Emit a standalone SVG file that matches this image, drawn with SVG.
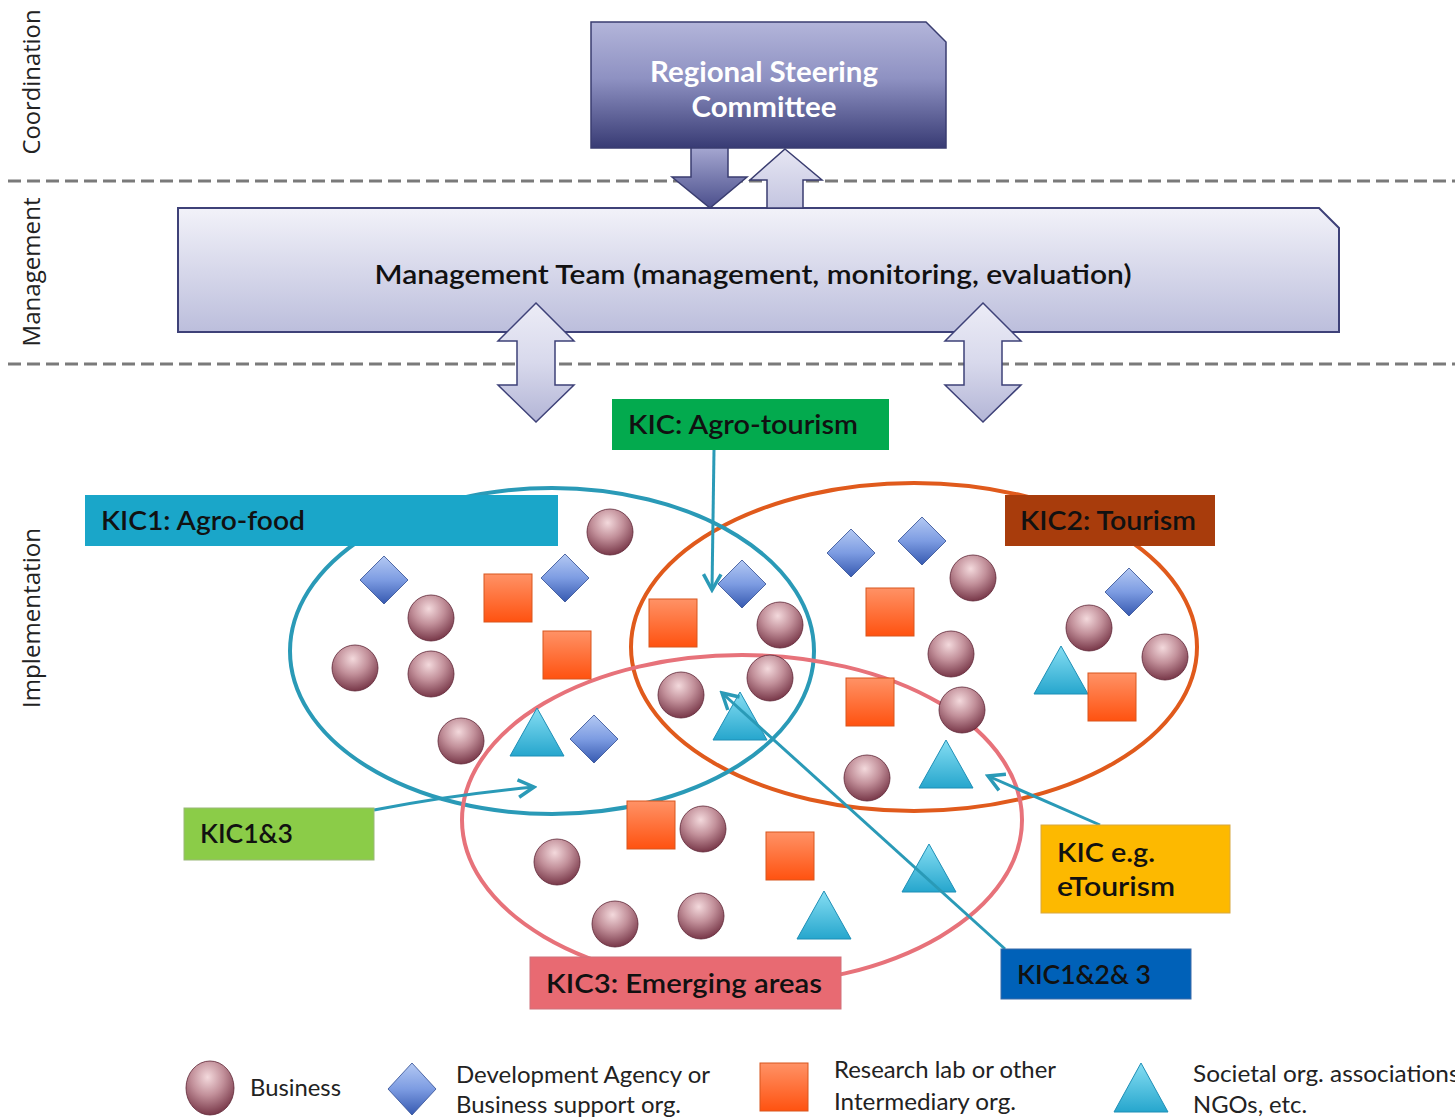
<svg xmlns="http://www.w3.org/2000/svg" width="1455" height="1119" viewBox="0 0 1455 1119">
<style>
.side{font-family:"Open Sans","Liberation Sans",sans-serif;font-size:23px;fill:#222}
.lbl{font-family:Lato,"Open Sans","Liberation Sans",sans-serif;font-size:27px;fill:#111;font-weight:600}
.leg{font-family:Lato,"Liberation Sans",sans-serif;font-size:23px;fill:#222}
.dash{stroke:#7a7a7a;stroke-width:3;stroke-dasharray:13,6;fill:none}
.biz{fill:url(#gBiz);stroke:#5e2535;stroke-width:0.8}
.dev{fill:url(#gDev);stroke:#2f4b92;stroke-width:0.8}
.lab{fill:url(#gLab);stroke:#d8561f;stroke-width:1}
.soc{fill:url(#gSoc);stroke:#1f8fb6;stroke-width:1}
.conn{stroke:#2a9ab7;stroke-width:3;fill:none}
.ell{fill:none;stroke-width:4}
</style>
<defs>
<linearGradient id="gRsc" x1="0" y1="0" x2="0" y2="1">
<stop offset="0" stop-color="#b3b5da"/><stop offset="0.45" stop-color="#8e91c2"/><stop offset="1" stop-color="#383b74"/>
</linearGradient>
<linearGradient id="gMgt" x1="0" y1="0" x2="0" y2="1">
<stop offset="0" stop-color="#f2f2f9"/><stop offset="1" stop-color="#bcbedc"/>
</linearGradient>
<linearGradient id="gDown" x1="0" y1="0" x2="0" y2="1">
<stop offset="0" stop-color="#a4a6d0"/><stop offset="1" stop-color="#4b4f8c"/>
</linearGradient>
<linearGradient id="gUp" x1="0" y1="0" x2="0" y2="1">
<stop offset="0" stop-color="#e6e6f3"/><stop offset="1" stop-color="#c4c5e0"/>
</linearGradient>
<linearGradient id="gDbl" x1="0" y1="0" x2="0" y2="1">
<stop offset="0" stop-color="#ececf6"/><stop offset="0.5" stop-color="#d8d9ec"/><stop offset="1" stop-color="#b3b5d6"/>
</linearGradient>
<radialGradient id="gBiz" cx="0.45" cy="0.3" r="0.75">
<stop offset="0" stop-color="#f3d9dc"/><stop offset="0.45" stop-color="#c2909a"/><stop offset="1" stop-color="#6e2c3e"/>
</radialGradient>
<linearGradient id="gDev" x1="0" y1="0" x2="0" y2="1">
<stop offset="0" stop-color="#b4c9f3"/><stop offset="0.5" stop-color="#7d9ce2"/><stop offset="1" stop-color="#3659b0"/>
</linearGradient>
<linearGradient id="gLab" x1="0" y1="0" x2="0" y2="1">
<stop offset="0" stop-color="#ff9266"/><stop offset="1" stop-color="#ff5210"/>
</linearGradient>
<linearGradient id="gSoc" x1="0" y1="0" x2="0" y2="1">
<stop offset="0" stop-color="#86def3"/><stop offset="1" stop-color="#26a6cd"/>
</linearGradient>
<marker id="ah" viewBox="0 0 12 12" refX="10" refY="6" markerWidth="7" markerHeight="7" orient="auto" markerUnits="strokeWidth">
<path d="M1,1 L10,6 L1,11" fill="none" stroke="#2a9ab7" stroke-width="2"/>
</marker>
<circle id="b" r="23" class="biz"/>
<path id="d" d="M0,-24 L24,0 L0,24 L-24,0 Z" class="dev"/>
<rect id="s" x="-24" y="-24" width="48" height="48" class="lab"/>
<path id="t" d="M0,-26 L27,22 L-27,22 Z" class="soc"/>
</defs>

<rect width="1455" height="1119" fill="#fff"/>

<g id="layers">
<line class="dash" x1="8" y1="181" x2="1455" y2="181"/>
<line class="dash" x1="8" y1="364" x2="1455" y2="364"/>
<text class="side" transform="translate(40,82) rotate(-90)" text-anchor="middle" textLength="145" lengthAdjust="spacingAndGlyphs">Coordination</text>
<text class="side" transform="translate(40,272) rotate(-90)" text-anchor="middle" textLength="149" lengthAdjust="spacingAndGlyphs">Management</text>
<text class="side" transform="translate(40,618) rotate(-90)" text-anchor="middle" textLength="180" lengthAdjust="spacingAndGlyphs">Implementation</text>
</g>

<g id="steering">
<path d="M591,22 L926,22 L946,42 L946,148 L591,148 Z" fill="url(#gRsc)" stroke="#3a3d70" stroke-width="1.5"/>
<text x="764" y="82" text-anchor="middle" font-family="Lato,'Open Sans',sans-serif" font-size="28" font-weight="bold" fill="#fff" textLength="228" lengthAdjust="spacingAndGlyphs">Regional Steering</text>
<text x="764" y="117" text-anchor="middle" font-family="Lato,'Open Sans',sans-serif" font-size="28" font-weight="bold" fill="#fff" textLength="145" lengthAdjust="spacingAndGlyphs">Committee</text>
</g>

<g id="management">
<path d="M178,208 L1319,208 L1339,228 L1339,332 L178,332 Z" fill="url(#gMgt)" stroke="#3e4178" stroke-width="2"/>
<text x="753" y="284" text-anchor="middle" class="lbl" font-size="26" textLength="757" lengthAdjust="spacingAndGlyphs">Management Team (management, monitoring, evaluation)</text>
</g>

<g id="flow-arrows">
<path d="M691,148 L728,148 L728,177 L747,177 L710,208 L672,177 L691,177 Z" fill="url(#gDown)" stroke="#3a3d70" stroke-width="1.5"/>
<path d="M785,149 L822,180 L803,180 L803,208 L767,208 L767,180 L750,180 Z" fill="url(#gUp)" stroke="#3a3d70" stroke-width="1.5"/>
<path d="M536,303 L574,341 L555,341 L555,385 L574,385 L536,422 L498,385 L517,385 L517,341 L498,341 Z" fill="url(#gDbl)" stroke="#3e4178" stroke-width="1.5"/>
<path d="M983,303 L1021,341 L1002,341 L1002,385 L1021,385 L983,422 L945,385 L964,385 L964,341 L945,341 Z" fill="url(#gDbl)" stroke="#3e4178" stroke-width="1.5"/>
</g>

<g id="clusters">
<ellipse class="ell" cx="914" cy="647" rx="283" ry="164" stroke="#e05a1c"/>
<ellipse class="ell" cx="552" cy="651" rx="262" ry="163" stroke="#2a9ab7"/>
<ellipse class="ell" cx="742" cy="820" rx="280" ry="165" stroke="#e7727a"/>
</g>

<g id="actors">
<use href="#b" x="610" y="532"/>
<use href="#b" x="431" y="618"/>
<use href="#b" x="355" y="668"/>
<use href="#b" x="431" y="674"/>
<use href="#b" x="461" y="741"/>
<use href="#d" x="384" y="580"/>
<use href="#d" x="565" y="578"/>
<use href="#d" x="594" y="739"/>
<use href="#s" x="508" y="598"/>
<use href="#s" x="567" y="655"/>
<use href="#t" x="537" y="734"/>

<use href="#d" x="742" y="584"/>
<use href="#s" x="673" y="623"/>
<use href="#b" x="780" y="625"/>
<use href="#b" x="770" y="678"/>
<use href="#b" x="681" y="695"/>
<use href="#t" x="740" y="718"/>

<use href="#d" x="851" y="553"/>
<use href="#d" x="922" y="541"/>
<use href="#d" x="1129" y="592"/>
<use href="#b" x="973" y="578"/>
<use href="#s" x="890" y="612"/>
<use href="#b" x="951" y="654"/>
<use href="#b" x="1089" y="628"/>
<use href="#b" x="1165" y="657"/>
<use href="#t" x="1061" y="672"/>
<use href="#s" x="1112" y="697"/>
<use href="#s" x="870" y="702"/>
<use href="#b" x="962" y="710"/>
<use href="#b" x="867" y="778"/>
<use href="#t" x="946" y="766"/>

<use href="#s" x="651" y="825"/>
<use href="#b" x="703" y="829"/>
<use href="#s" x="790" y="856"/>
<use href="#b" x="557" y="862"/>
<use href="#t" x="929" y="870"/>
<use href="#b" x="615" y="924"/>
<use href="#b" x="701" y="916"/>
<use href="#t" x="824" y="917"/>
</g>

<g id="connectors">
<path class="conn" d="M714,450 L712,590" marker-end="url(#ah)"/>
<path class="conn" d="M374,810 Q450,795 534,787" marker-end="url(#ah)"/>
<path class="conn" d="M1005,949 L722,693" marker-end="url(#ah)"/>
<path class="conn" d="M1100,825 L988,776" marker-end="url(#ah)"/>
</g>

<g id="kic-agrotourism">
<rect x="612" y="399" width="277" height="51" fill="#03aa4e"/>
<text class="lbl" x="628" y="434" textLength="230" lengthAdjust="spacingAndGlyphs">KIC: Agro-tourism</text>
</g>
<g id="kic1">
<rect x="85" y="495" width="473" height="51" fill="#1aa6c9"/>
<text class="lbl" x="101" y="530" textLength="204" lengthAdjust="spacingAndGlyphs">KIC1: Agro-food</text>
</g>
<g id="kic2">
<rect x="1005" y="495" width="210" height="51" fill="#a83c0c"/>
<text class="lbl" x="1020" y="530" textLength="176" lengthAdjust="spacingAndGlyphs">KIC2: Tourism</text>
</g>
<g id="kic13">
<rect x="184" y="808" width="190" height="52" fill="#8bcc48" stroke="#9ab878" stroke-width="1"/>
<text class="lbl" x="200" y="843" textLength="93" lengthAdjust="spacingAndGlyphs">KIC1&amp;3</text>
</g>
<g id="kic-etourism">
<rect x="1041" y="825" width="189" height="88" fill="#fdb900" stroke="#d8a840" stroke-width="1"/>
<text class="lbl" x="1057" y="862" textLength="98" lengthAdjust="spacingAndGlyphs">KIC e.g.</text>
<text class="lbl" x="1057" y="896" textLength="118" lengthAdjust="spacingAndGlyphs">eTourism</text>
</g>
<g id="kic123">
<rect x="1001" y="949" width="190" height="50" fill="#0061b8" stroke="#3a6aa8" stroke-width="1"/>
<text class="lbl" x="1017" y="984" textLength="134" lengthAdjust="spacingAndGlyphs">KIC1&amp;2&amp; 3</text>
</g>
<g id="kic3">
<rect x="530" y="957" width="311" height="52" fill="#e86a72" stroke="#d0707a" stroke-width="1"/>
<text class="lbl" x="546" y="993" textLength="276" lengthAdjust="spacingAndGlyphs">KIC3: Emerging areas</text>
</g>

<g id="legend">
<ellipse cx="210" cy="1088" rx="24" ry="27" class="biz"/>
<text class="leg" x="250" y="1096" textLength="91" lengthAdjust="spacingAndGlyphs">Business</text>
<path d="M412,1063 L436,1089 L412,1115 L388,1089 Z" class="dev"/>
<text class="leg" x="456" y="1083" textLength="254" lengthAdjust="spacingAndGlyphs">Development Agency or</text>
<text class="leg" x="456" y="1113" textLength="225" lengthAdjust="spacingAndGlyphs">Business support org.</text>
<rect x="760" y="1063" width="48" height="48" class="lab"/>
<text class="leg" x="834" y="1078" textLength="222" lengthAdjust="spacingAndGlyphs">Research lab or other</text>
<text class="leg" x="834" y="1110" textLength="182" lengthAdjust="spacingAndGlyphs">Intermediary org.</text>
<path d="M1141,1063 L1168,1112 L1114,1112 Z" class="soc"/>
<text class="leg" x="1193" y="1082" textLength="272" lengthAdjust="spacingAndGlyphs">Societal org. associations,</text>
<text class="leg" x="1193" y="1113" textLength="114" lengthAdjust="spacingAndGlyphs">NGOs, etc.</text>
</g>
</svg>
